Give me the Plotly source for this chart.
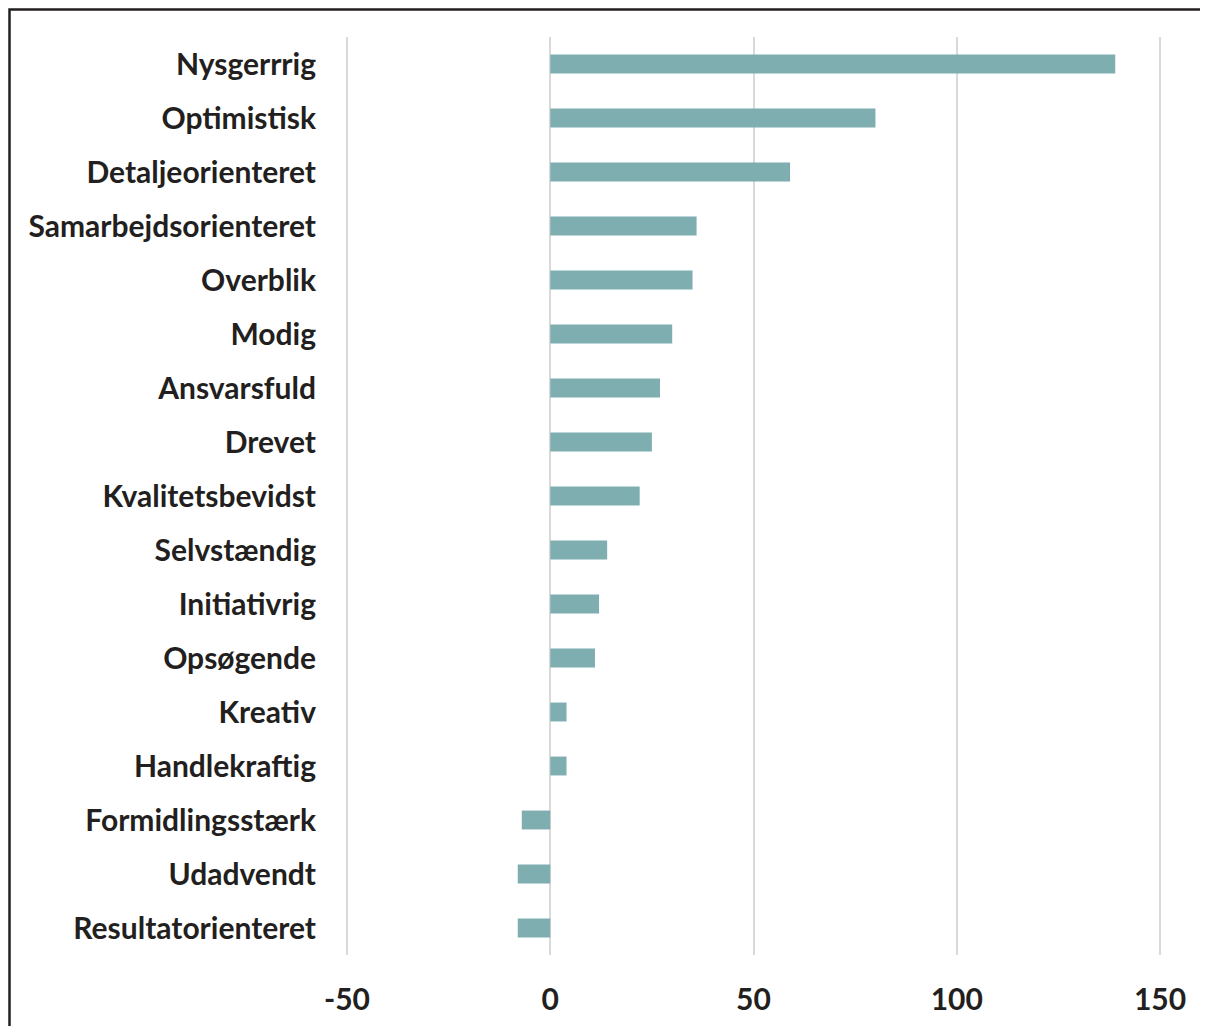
import plotly.graph_objects as go

# egenskaber, øverst til nederst som i figuren
categories = ["Nysgerrrig", "Optimistisk", "Detaljeorienteret", "Samarbejdsorienteret",
              "Overblik", "Modig", "Ansvarsfuld", "Drevet", "Kvalitetsbevidst",
              "Selvstændig", "Initiativrig", "Opsøgende", "Kreativ", "Handlekraftig",
              "Formidlingsstærk", "Udadvendt", "Resultatorienteret"]
values = [139, 80, 59, 36, 35, 30, 27, 25, 22, 14, 12, 11, 4, 4, -7, -8, -8]
x_ticks = [-50, 0, 50, 100, 150]

# siden har 8 px body-margin, så figuren starter i (8, 8)
W, H = 1208, 1026
L, R, T, B = 337, 54, 29, 79
pw, ph = W - L - R, H - T - B

fig = go.Figure(go.Bar(
        x=values, y=categories, orientation="h",
        marker=dict(color="#7FAEB1", line=dict(width=0)),
        width=0.35))

fig.update_layout(
        width=W, height=H,
        margin=dict(l=L, r=R, t=T, b=B, pad=0),
        plot_bgcolor="white", paper_bgcolor="white",
        showlegend=False,
        font=dict(family="Lato", size=30, color="#231F20"))

# lidt luft i range, så gitterlinjerne ved -50 og 150 kommer med
fig.update_xaxes(range=[-50.5, 150.5], tickvals=x_ticks, ticktext=[str(v) for v in x_ticks],
                 showgrid=True, gridcolor="#D9D9D9", gridwidth=2,
                 zeroline=True, zerolinecolor="#D9D9D9", zerolinewidth=2,
                 showline=False, ticks="", ticklabelstandoff=24,
                 tickfont=dict(family="Lato", size=30, weight="bold", color="#231F20"))
fig.update_yaxes(categoryorder="array", categoryarray=categories[::-1],
                 showgrid=False, zeroline=False, showline=False, ticks="",
                 ticklabelstandoff=28,
                 tickfont=dict(family="Lato", size=30, weight="bold", color="#231F20"))

# ramme om hele figuren (skåret af i højre og nederste kant)
fig.add_shape(type="rect", xref="paper", yref="paper",
              x0=(1.5 - L) / pw, x1=1.3, y0=-0.3, y1=(H - B - 1.5) / ph,
              line=dict(color="#231F20", width=2.5), fillcolor="rgba(0,0,0,0)",
              layer="above")

fig.write_html("out.html")
